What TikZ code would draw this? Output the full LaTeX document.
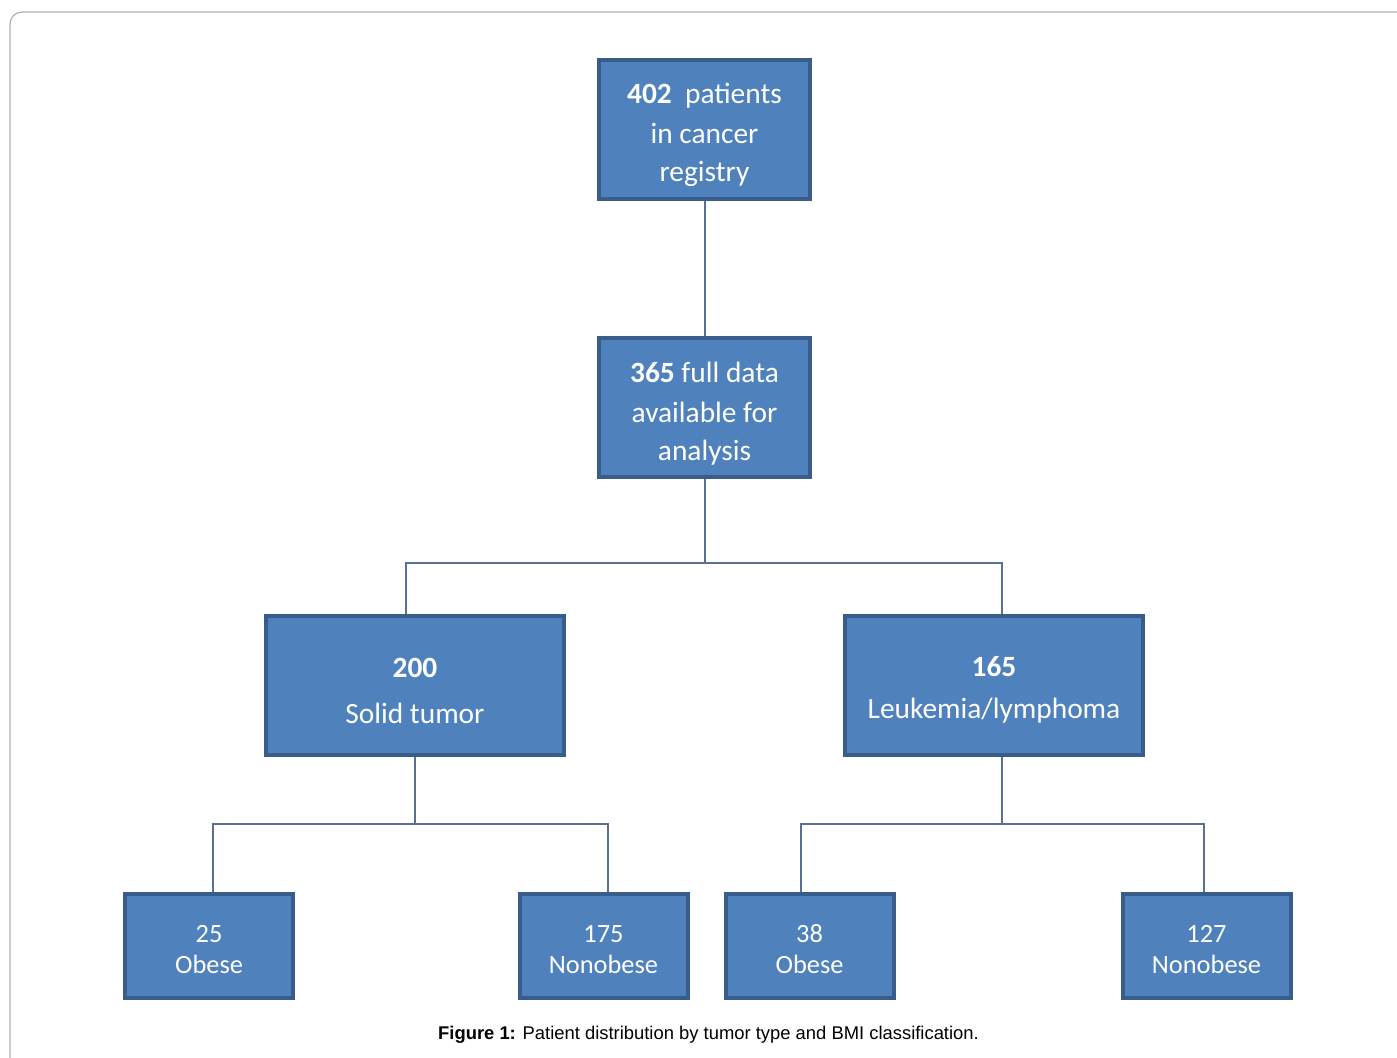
\documentclass[tikz,border=0pt]{standalone}
\usepackage{fontspec}
\setmainfont{Carlito}
\newfontfamily\capfont{Liberation Sans}
\usepackage{xcolor}
\usetikzlibrary{positioning,calc}

\definecolor{boxfill}{RGB}{79,129,189}
\definecolor{boxedge}{RGB}{56,93,138}
\definecolor{linkcol}{RGB}{90,112,146}
\definecolor{framecol}{RGB}{175,175,175}
\newcommand{\lowstrut}[1]{\rule{0pt}{#1}}

\begin{document}
\begin{tikzpicture}[
    x=0.5pt, y=-0.5pt,
    bigbox/.style={rectangle, draw=boxedge, line width=2pt, fill=boxfill, text=white, align=center,
        minimum width=105.5pt, minimum height=69.5pt, inner sep=0pt,
        font=\fontsize{14.7}{19}\selectfont},
    midbox/.style={bigbox, minimum width=149pt},
    leafbox/.style={bigbox, minimum width=84pt, minimum height=52pt,
        font=\fontsize{13.2}{15.5}\selectfont},
    link/.style={draw=linkcol, line width=1pt},
    caption/.style={font=\capfont\fontsize{9.2}{11}\selectfont}
]
\useasboundingbox (0,0) rectangle (1397,1057);
\clip (0,0) rectangle (1397,1057);
% FRAME
\draw[framecol, line width=0.6pt, rounded corners=6pt] (10,12) rectangle (1430,1090);
% TOP LEVEL
\node[bigbox] (reg) at (704.5,129.5) {\lowstrut{16pt}\textbf{402}~ patients\\[1pt]in cancer\\registry};
\node[bigbox] (full) at (704.5,407.5) {\lowstrut{16pt}\textbf{365} full data\\[1pt]available for\\analysis};
% TUMOR TYPE
\node[midbox] (solid) at (415,685.5) {\lowstrut{15pt}\textbf{200}\\[4pt]Solid tumor};
\node[midbox] (leuk) at (994,685.5) {\lowstrut{14pt}\textbf{165}\\[2pt]Leukemia/lymphoma};
% BMI CLASS
\node[leafbox] (obA) at (209,946) {\lowstrut{12pt}25\\Obese};
\node[leafbox] (nonA) at (603.5,946) {\lowstrut{12pt}175\\Nonobese};
\node[leafbox] (obB) at (809.5,946) {\lowstrut{12pt}38\\Obese};
\node[leafbox] (nonB) at (1206.5,946) {\lowstrut{12pt}127\\Nonobese};
% CONNECTORS
\coordinate (split) at (704.5,563);
\coordinate (splitA) at (415,824);
\coordinate (splitB) at (1002,824);
\draw[link] (reg.south) -- (full.north);
\draw[link] (full.south) -- (split);
\draw[link] (split) -| ([xshift=-4.5pt]solid.north);
\draw[link] (split) -| ([xshift=4pt]leuk.north);
\draw[link] (solid.south) -- (splitA);
\draw[link] (splitA) -| ([xshift=2pt]obA.north);
\draw[link] (splitA) -| ([xshift=2.25pt]nonA.north);
\draw[link] ([xshift=4pt]leuk.south) -- (splitB);
\draw[link] (splitB) -| ([xshift=-4.25pt]obB.north);
\draw[link] (splitB) -| ([xshift=-1.25pt]nonB.north);
% CAPTION
\node[caption] (cap) at (708.5,1035) {\textbf{Figure 1:} Patient distribution by tumor type and BMI classification.};
\end{tikzpicture}
\end{document}
